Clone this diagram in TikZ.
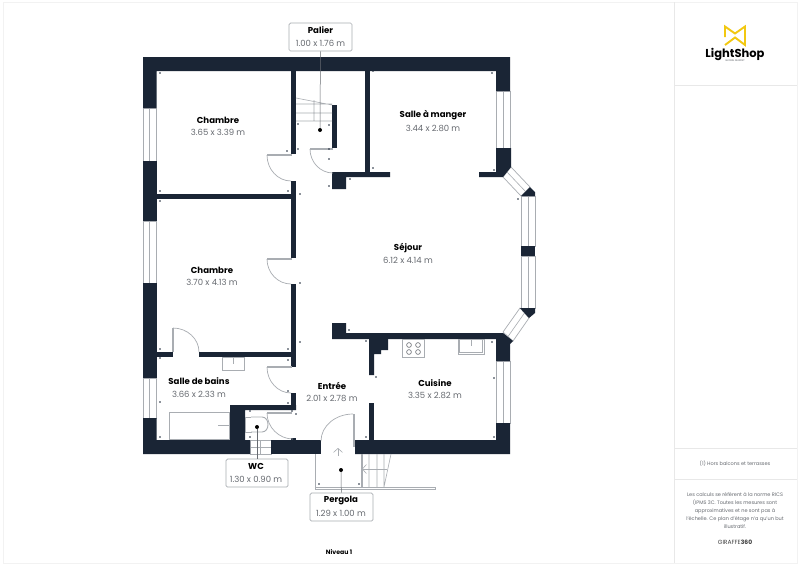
\documentclass[tikz,border=0pt]{standalone}
\usepackage{fontspec}
\usetikzlibrary{arrows.meta}
\setmainfont{Poppins}
\definecolor{wallcol}{HTML}{1A2535}
\definecolor{fixcol}{HTML}{A9ADB2}
\definecolor{dimcol}{HTML}{666A70}
\definecolor{logocol}{HTML}{F2C811}
\tikzset{
  wall/.style={fill=wallcol,draw=none},
  fixture/.style={draw=fixcol,line width=0.9pt,fill=white},
  thin fixture/.style={draw=fixcol,line width=0.6pt},
  leaf/.style={draw=fixcol,line width=1.6pt},
  swing/.style={draw=fixcol,line width=0.7pt},
  pane/.style={draw=fixcol,line width=0.7pt,fill=white},
  room/.style={font=\fontsize{8.6}{10}\selectfont\bfseries,text=black,inner sep=0pt},
  dim/.style={font=\fontsize{8.5}{10}\selectfont,text=dimcol,inner sep=0pt},
  tag/.style={draw=fixcol,rounded corners=1.5pt,fill=white,line width=0.7pt},
  leader/.style={draw=dimcol,line width=0.5pt},
  panel/.style={draw=black!9,line width=0.8pt},
  note/.style={font=\fontsize{5}{8}\selectfont,text=dimcol,align=center,inner sep=0pt},
  barb/.style={-{Straight Barb[length=4pt,width=9pt]}},
}
\begin{document}
\begin{tikzpicture}[x=1pt,y=-1pt]
\useasboundingbox (0,0) rectangle (800,566);
% page frame and side panel
\fill[white] (0,0) rectangle (800,566);
\draw[panel,draw=black!5] (3,2) rectangle (797,563);
\draw[panel] (674,2) -- (674,563);
\draw[panel] (674,85) -- (797,85);
\draw[panel] (674,448) -- (797,448);
\draw[panel] (674,479) -- (797,479);
% windows
\foreach \xa/\ya/\xb/\yb in {143/108/156.5/161, 143/221/156.5/283, 143/378/156.5/418,
    496/91/510/148, 496/361/510/423, 521/196/535/246, 521/256/535/308, 250/440/271/454}{
  \draw[pane] (\xa,\ya) rectangle (\xb,\yb);
}
\draw[thin fixture] (149.7,108) -- (149.7,161) (149.7,221) -- (149.7,283) (149.7,378) -- (149.7,418);
\draw[thin fixture] (503,91) -- (503,148) (503,361) -- (503,423);
\draw[thin fixture] (528,196) -- (528,246) (528,256) -- (528,308);
\draw[thin fixture] (250,447) -- (271,447) (260.5,440) -- (260.5,454);
\draw[pane] (511,167) -- (530,187) -- (521,196) -- (503,177) -- cycle;
\draw[thin fixture] (507,172) -- (525.5,191.5);
\draw[pane] (503,332) -- (520,308) -- (529,318) -- (513,341) -- cycle;
\draw[thin fixture] (508,336.5) -- (524.5,313);
% outer walls
\path[wall] (143,57) -- (510,57) -- (510,91) -- (496,91) -- (496,71) -- (156.5,71)
  -- (156.5,108) -- (143,108) -- cycle;
\path[wall] (143,161) rectangle (156.5,221);
\path[wall] (143,283) rectangle (156.5,378);
\path[wall] (143,418) -- (156.5,418) -- (156.5,440) -- (230,440) -- (230,405) -- (296,405)
  -- (296,410) -- (245,410) -- (245,440) -- (250,440) -- (250,454) -- (143,454) -- cycle;
\path[wall] (271,440) rectangle (321,454);
\path[wall] (355,440) -- (496,440) -- (496,423) -- (510,423) -- (510,454) -- (355,454) -- cycle;
\path[wall] (332,323) -- (346,323) -- (346,333) -- (503,333) -- (513,341) -- (510,344)
  -- (510,361) -- (496,361) -- (496,339) -- (332,339) -- cycle;
\path[wall] (496,148) -- (511,148) -- (511,167) -- (503,177) -- (479,177) -- (479,172)
  -- (496,172) -- cycle;
\path[wall] (530,187) -- (535,192) -- (535,196) -- (521,196) -- cycle;
\path[wall] (520,308) -- (535,308) -- (535,313) -- (529,318) -- cycle;
\path[wall] (521,246) rectangle (535,256);
% inner walls
\path[wall] (291,71) rectangle (296,154);
\path[wall] (291,181) rectangle (296,258);
\path[wall] (291,284) rectangle (296,367);
\path[wall] (291,393) rectangle (296,410);
\path[wall] (291,438) rectangle (296,440);
\path[wall] (156.5,194) rectangle (291,199);
\path[wall] (156.5,352) rectangle (173,357);
\path[wall] (199,352) rectangle (291,357);
\path[wall] (365,71) rectangle (370,172);
\path[wall] (332,105) rectangle (337,148);
\path[wall] (332,172) -- (390,172) -- (390,177) -- (346,177) -- (346,189) -- (332,189) -- cycle;
\path[wall] (369,339) -- (388,339) -- (388,350) -- (381,350) -- (381,354) -- (374,354)
  -- (374,375) -- (369,375) -- cycle;
\path[wall] (369,403) rectangle (374,440);
% doors
\draw[swing] (267,155) .. controls (267,169.3) and (277.8,181) .. (291,181);
\draw[leaf] (267,155) -- (292,155);
\draw[swing] (267,259) .. controls (267,272.8) and (277.8,284) .. (291,284);
\draw[leaf] (267,259) -- (292,259);
\draw[swing] (267,367) .. controls (267,381.3) and (277.8,393) .. (291,393);
\draw[leaf] (267,367) -- (292,367);
\draw[swing] (267,413) .. controls (267,427.3) and (279,439) .. (293,439);
\draw[leaf] (267,413) -- (292,413);
\draw[swing] (310,149) .. controls (310,162.2) and (320.3,173) .. (333,173);
\draw[leaf] (310,149) -- (333,149);
\draw[swing] (173,328) .. controls (187.3,328) and (199,338.8) .. (199,352);
\draw[leaf] (173,328) -- (173,352);
\draw[swing] (321,441) .. controls (321,426) and (335.4,414) .. (353,414);
\draw[leaf] (354,414) -- (354,447);
% stairs at the landing
\draw[thin fixture] (296,98) -- (332,105) (296,104) -- (332,104) (296,113) -- (332,113)
  (296,121) -- (332,121) (314,100) -- (314,121);
% bathroom, wc and kitchen fittings
\draw[fixture] (169,412) rectangle (229,439);
\draw[thin fixture] (218,425) -- (229,425);
\draw[fixture] (222,357) rectangle (244,370);
\draw[thin fixture] (233,357) -- (233,364);
\draw[fixture] (245,417) rectangle (251,432);
\draw[fixture] (251,417) -- (262,417) .. controls (270,417) and (270,432) .. (262,432) -- (251,432);
\draw[fixture,line width=0.6pt] (402,339) rectangle (424,357);
\foreach \cx/\cy in {409/345, 418/345, 409/352, 418/352}{
  \draw[thin fixture,draw=dimcol] (\cx,\cy) circle (2.4);
}
\draw[fixture] (458,339) rectangle (484,354);
\draw[thin fixture] (459.5,339) -- (459.5,352.5) -- (482.5,352.5) -- (482.5,339) (471,339) -- (471,346);
% pergola and outside steps
\draw[leaf] (315.5,454) -- (315.5,488);
\draw[leaf,line width=1.2pt] (362,454) -- (362,487);
\draw[fixture,line width=0.8pt] (315,487) rectangle (435,489);
\draw[thin fixture] (369,454) -- (369,487) (377,454) -- (377,487) (384,454) -- (384,487)
  (391,454) -- (384,487);
\draw[thin fixture,barb] (387,469) -- (362,469);
\draw[thin fixture,barb] (338,456) -- (338,448);
% corner marks
\foreach \mx/\my in {160/73, 160/191, 160/201, 287/151, 300/194, 288/191, 300/283, 300/342,
    160/349, 160/358, 160/402, 160/437, 288/349, 288/360, 288/391, 288/403, 250/411, 292/411,
    250/437, 296/414, 298/124, 298/149, 329/149, 329/125, 329/159, 329/186, 350/179, 373/168,
    373/71, 492/73, 494/170, 518/199, 494/336, 494/378, 494/437, 349/330, 366/341, 376/377,
    366/437, 319/484, 359/484, 492/342}{
  \fill[wallcol] (\mx,\my) circle (0.8);
}
% room labels
\node[room] (chambre1) at (218,120) {Chambre};
\node[dim] (chambre1dim) at (218,132) {3.65 x 3.39 m};
\node[room] (manger) at (433,115) {Salle à manger};
\node[dim] (mangerdim) at (433,128) {3.44 x 2.80 m};
\node[room] (chambre2) at (212,270) {Chambre};
\node[dim] (chambre2dim) at (212,282) {3.70 x 4.13 m};
\node[room] (sejour) at (408,248) {Séjour};
\node[dim] (sejourdim) at (408,260) {6.12 x 4.14 m};
\node[room] (bains) at (199,381) {Salle de bains};
\node[dim] (bainsdim) at (199,394) {3.66 x 2.33 m};
\node[room] (entree) at (332,386) {Entrée};
\node[dim] (entreedim) at (332,398) {2.01 x 2.78 m};
\node[room] (cuisine) at (435,383) {Cuisine};
\node[dim] (cuisinedim) at (435,395) {3.35 x 2.82 m};
% tagged rooms
\node[tag,minimum width=63pt,minimum height=28pt] (palierbox) at (320.5,37) {};
\node[room] (palier) at (320.5,30) {Palier};
\node[dim] (palierdim) at (320.5,43) {1.00 x 1.76 m};
\node[circle,fill=black,inner sep=0pt,minimum size=4pt] (palierdot) at (320,130) {};
\draw[leader] (palierbox) -- (palierdot);
\node[tag,minimum width=62pt,minimum height=28pt] (wcbox) at (257,473) {};
\node[room] (wc) at (256,466.5) {WC};
\node[dim] (wcdim) at (256,479.5) {1.30 x 0.90 m};
\node[circle,fill=black,inner sep=0pt,minimum size=4pt] (wcdot) at (257,427) {};
\draw[leader] (wcbox) -- (wcdot);
\node[tag,minimum width=63pt,minimum height=28pt] (pergolabox) at (341.5,507) {};
\node[room] (pergola) at (341,500.5) {Pergola};
\node[dim] (pergoladim) at (341,513.5) {1.29 x 1.00 m};
\node[circle,fill=black,inner sep=0pt,minimum size=4pt] (pergoladot) at (341,470) {};
\draw[leader] (pergolabox) -- (pergoladot);
\node[room,font=\fontsize{6.2}{8}\selectfont\bfseries] (niveau) at (339,552) {Niveau 1};
% side panel contents
\draw[logocol,line width=1.9pt,line join=miter] (725,37) -- (725,26.5) -- (735,33.5) -- (745,26.5)
  -- (745,45) -- (735,37.5) -- (725,45);
\node[inner sep=0pt,font=\fontsize{11.5}{12}\selectfont\bfseries] (logo) at (735,54) {LightShop};
\node[note,font=\fontsize{2.5}{3}\selectfont] (logosub) at (735,61) {GLOBAL MARKET};
\node[note] (hors) at (735,464) {(1) Hors balcons et terrasses};
\node[note] (calculs) at (735,511) {Les calculs se réfèrent à la norme RICS\\(IPMS 3C. Toutes les mesures sont\\approximatives et ne sont pas à\\l'échelle. Ce plan d'étage n'a qu'un but\\illustratif.};
\node[note,font=\fontsize{6}{8}\selectfont,text=black!75] (giraffe) at (735,542) {GIRAFFE\textbf{360}};
\end{tikzpicture}
\end{document}
